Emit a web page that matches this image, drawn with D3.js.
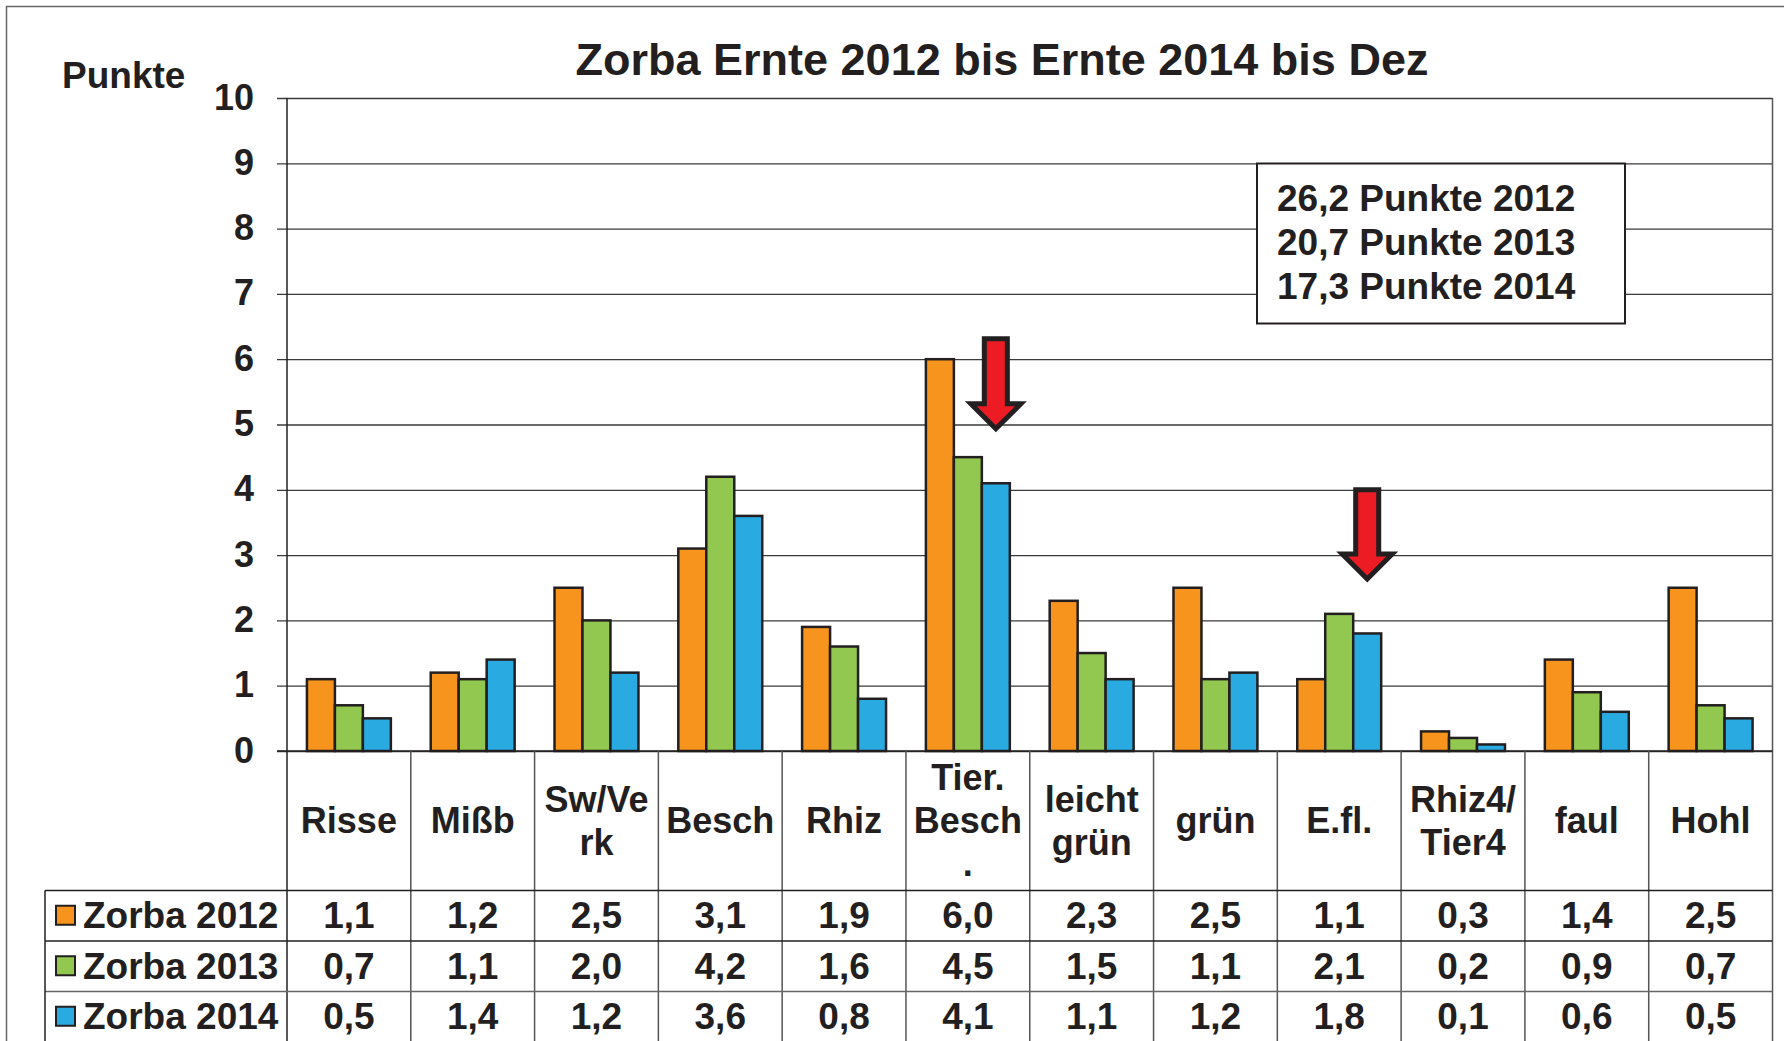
<!DOCTYPE html>
<html>
<head>
<meta charset="utf-8">
<script src="https://cdn.jsdelivr.net/npm/d3@7"></script>
<style>
  html, body { margin: 0; padding: 0; background: #fff; }
  svg { display: block; }
  text { font-family: "Liberation Sans", Arial, sans-serif; font-weight: bold; fill: #231f20; }
</style>
</head>
<body>
<script>
// ---- data ----
const categories = ["Risse", "Mißb", "Sw/Verk", "Besch", "Rhiz", "Tier. Besch.", "leicht grün", "grün", "E.fl.", "Rhiz4/Tier4", "faul", "Hohl"];
const categoryLines = [["Risse"], ["Mißb"], ["Sw/Ve", "rk"], ["Besch"], ["Rhiz"], ["Tier.", "Besch", "."], ["leicht", "grün"], ["grün"], ["E.fl."], ["Rhiz4/", "Tier4"], ["faul"], ["Hohl"]];
const seriesNames = ["Zorba 2012", "Zorba 2013", "Zorba 2014"];
const zorba2012 = [1.1, 1.2, 2.5, 3.1, 1.9, 6.0, 2.3, 2.5, 1.1, 0.3, 1.4, 2.5];
const zorba2013 = [0.7, 1.1, 2.0, 4.2, 1.6, 4.5, 1.5, 1.1, 2.1, 0.2, 0.9, 0.7];
const zorba2014 = [0.5, 1.4, 1.2, 3.6, 0.8, 4.1, 1.1, 1.2, 1.8, 0.1, 0.6, 0.5];
const yTicks = [0, 1, 2, 3, 4, 5, 6, 7, 8, 9, 10];
const titleText = "Zorba Ernte 2012 bis Ernte 2014 bis Dez";
const yAxisTitle = "Punkte";
const noteLines = ["26,2 Punkte 2012", "20,7 Punkte 2013", "17,3 Punkte 2014"];
// arrows: category, series index, start value (top), tip value
const arrowCats = ["Tier. Besch.", "E.fl."];
const arrowSeries = [2, 2];
const arrowFrom = [6.35, 4.04];
const arrowTo = [4.88, 2.58];

const colors = ["#F7941E", "#92C850", "#29ABE2"];
const ink = "#231f20";
const seriesValues = [zorba2012, zorba2013, zorba2014];

// ---- layout ----
const W = 1784, H = 1041;
const plotL = 287, plotR = 1772.5, plotT = 98, plotB = 751;
const rowTops = [890.5, 941, 991.5];
const rowH = 50.5;
const tableL = 45;

const svg = d3.select("body").append("svg").attr("width", W).attr("height", H);

// outer border
svg.append("rect").attr("x", 6.5).attr("y", 6.5).attr("width", 1800).attr("height", 1100)
  .attr("fill", "none").attr("stroke", "#666").attr("stroke-width", 1.5);

const x = d3.scaleBand().domain(categories).range([plotL, plotR]).padding(0);
const y = d3.scaleLinear().domain([0, 10]).range([plotB, plotT]);
const groupW = x.bandwidth() * 0.678;
const xs = d3.scaleBand().domain(d3.range(3)).range([0, groupW]).padding(0);
const fmt = v => d3.format(".1f")(v).replace(".", ",");

// gridlines + ticks
const yAxis = d3.axisLeft(y).tickValues(yTicks).tickSize(-(plotR - plotL)).tickFormat("");
const ga = svg.append("g").attr("transform", `translate(${plotL},0)`).call(yAxis);
ga.select(".domain").remove();
ga.selectAll(".tick line").attr("stroke", "#3a3a3a").attr("stroke-width", 1.3).attr("x1", -10);

// y labels
svg.append("g").selectAll("text").data(yTicks).join("text")
  .attr("x", 254).attr("y", d => y(d) - 1)
  .attr("text-anchor", "end").attr("dominant-baseline", "central")
  .attr("font-size", 36).text(d => d);

// title & axis title
svg.append("text").attr("x", 1002).attr("y", 75).attr("text-anchor", "middle")
  .attr("font-size", 45).text(titleText);
svg.append("text").attr("x", 62).attr("y", 88).attr("font-size", 37).text(yAxisTitle);

// annotation box
svg.append("rect").attr("x", 1257).attr("y", 163.5).attr("width", 368).attr("height", 160)
  .attr("fill", "#fff").attr("stroke", ink).attr("stroke-width", 2);
svg.append("g").selectAll("text").data(noteLines).join("text")
  .attr("x", 1277).attr("y", (d, i) => 211 + i * 44)
  .attr("font-size", 37).text(d => d);

// bars
const bars = [];
seriesValues.forEach((vals, s) => vals.forEach((v, i) => bars.push({ s, cat: categories[i], v })));
svg.append("g").selectAll("rect").data(bars).join("rect")
  .attr("x", d => x(d.cat) + (x.bandwidth() - groupW) / 2 + xs(d.s))
  .attr("y", d => y(d.v))
  .attr("width", xs.bandwidth())
  .attr("height", d => y(0) - y(d.v))
  .attr("fill", d => colors[d.s])
  .attr("stroke", ink).attr("stroke-width", 2.5);

// axis lines
svg.append("line").attr("x1", plotL).attr("x2", plotL).attr("y1", plotT).attr("y2", H)
  .attr("stroke", ink).attr("stroke-width", 1.5);
svg.append("line").attr("x1", plotR).attr("x2", plotR).attr("y1", plotT).attr("y2", H)
  .attr("stroke", "#555").attr("stroke-width", 1.5);
svg.append("line").attr("x1", plotL - 10).attr("x2", plotR).attr("y1", y(0)).attr("y2", y(0))
  .attr("stroke", ink).attr("stroke-width", 1.5);

// table: category separators
svg.append("g").selectAll("line").data(categories.slice(1)).join("line")
  .attr("x1", d => x(d)).attr("x2", d => x(d)).attr("y1", plotB).attr("y2", H)
  .attr("stroke", "#555").attr("stroke-width", 1.5);
// row lines
svg.append("g").selectAll("line").data(rowTops).join("line")
  .attr("x1", tableL).attr("x2", plotR).attr("y1", d => d).attr("y2", d => d)
  .attr("stroke", (d, i) => i === 2 ? "#666" : ink).attr("stroke-width", 1.5);
svg.append("line").attr("x1", tableL).attr("x2", tableL).attr("y1", rowTops[0]).attr("y2", H)
  .attr("stroke", ink).attr("stroke-width", 1.5);

// category labels
const headerMid = (plotB + rowTops[0]) / 2;
const lineH = 43;
const cl = svg.append("g").selectAll("text").data(categories).join("text")
  .attr("text-anchor", "middle").attr("font-size", 36);
cl.each(function (d, i) {
  const lines = categoryLines[i];
  const t = d3.select(this);
  lines.forEach((ln, k) => {
    t.append("tspan").attr("x", x(d) + x.bandwidth() / 2)
      .attr("y", headerMid + (k - (lines.length - 1) / 2) * lineH)
      .attr("dominant-baseline", "central").text(ln);
  });
});

// legend column
const lg = svg.append("g").selectAll("g").data(seriesNames).join("g")
  .attr("transform", (d, i) => `translate(0,${rowTops[i] + rowH / 2})`);
lg.append("rect").attr("x", 56).attr("y", -10).attr("width", 19).attr("height", 19)
  .attr("fill", (d, i) => colors[i]).attr("stroke", ink).attr("stroke-width", 2);
lg.append("text").attr("x", 83).attr("y", 0).attr("dominant-baseline", "central")
  .attr("font-size", 37).text(d => d);

// value cells
const cells = [];
seriesValues.forEach((vals, s) => vals.forEach((v, i) => cells.push({ s, cat: categories[i], v })));
svg.append("g").selectAll("text").data(cells).join("text")
  .attr("x", d => x(d.cat) + x.bandwidth() / 2)
  .attr("y", d => rowTops[d.s] + rowH / 2)
  .attr("text-anchor", "middle").attr("dominant-baseline", "central")
  .attr("font-size", 37).text(d => fmt(d.v));

// arrows
arrowCats.forEach((c, i) => {
  const cx = x(c) + (x.bandwidth() - groupW) / 2 + xs(arrowSeries[i]) + xs.bandwidth() / 2;
  const top = y(arrowFrom[i]) + 2.5;
  const tip = y(arrowTo[i]) - 3.5;
  const hb = tip - 25, sw = 11.5, hw = 25;
  const p = d3.path();
  p.moveTo(cx - sw, top); p.lineTo(cx + sw, top); p.lineTo(cx + sw, hb);
  p.lineTo(cx + hw, hb); p.lineTo(cx, tip); p.lineTo(cx - hw, hb);
  p.lineTo(cx - sw, hb); p.closePath();
  svg.append("path").attr("d", p.toString()).attr("fill", "#ED1C24")
    .attr("stroke", ink).attr("stroke-width", 5).attr("stroke-linejoin", "miter");
});
</script>
</body>
</html>
